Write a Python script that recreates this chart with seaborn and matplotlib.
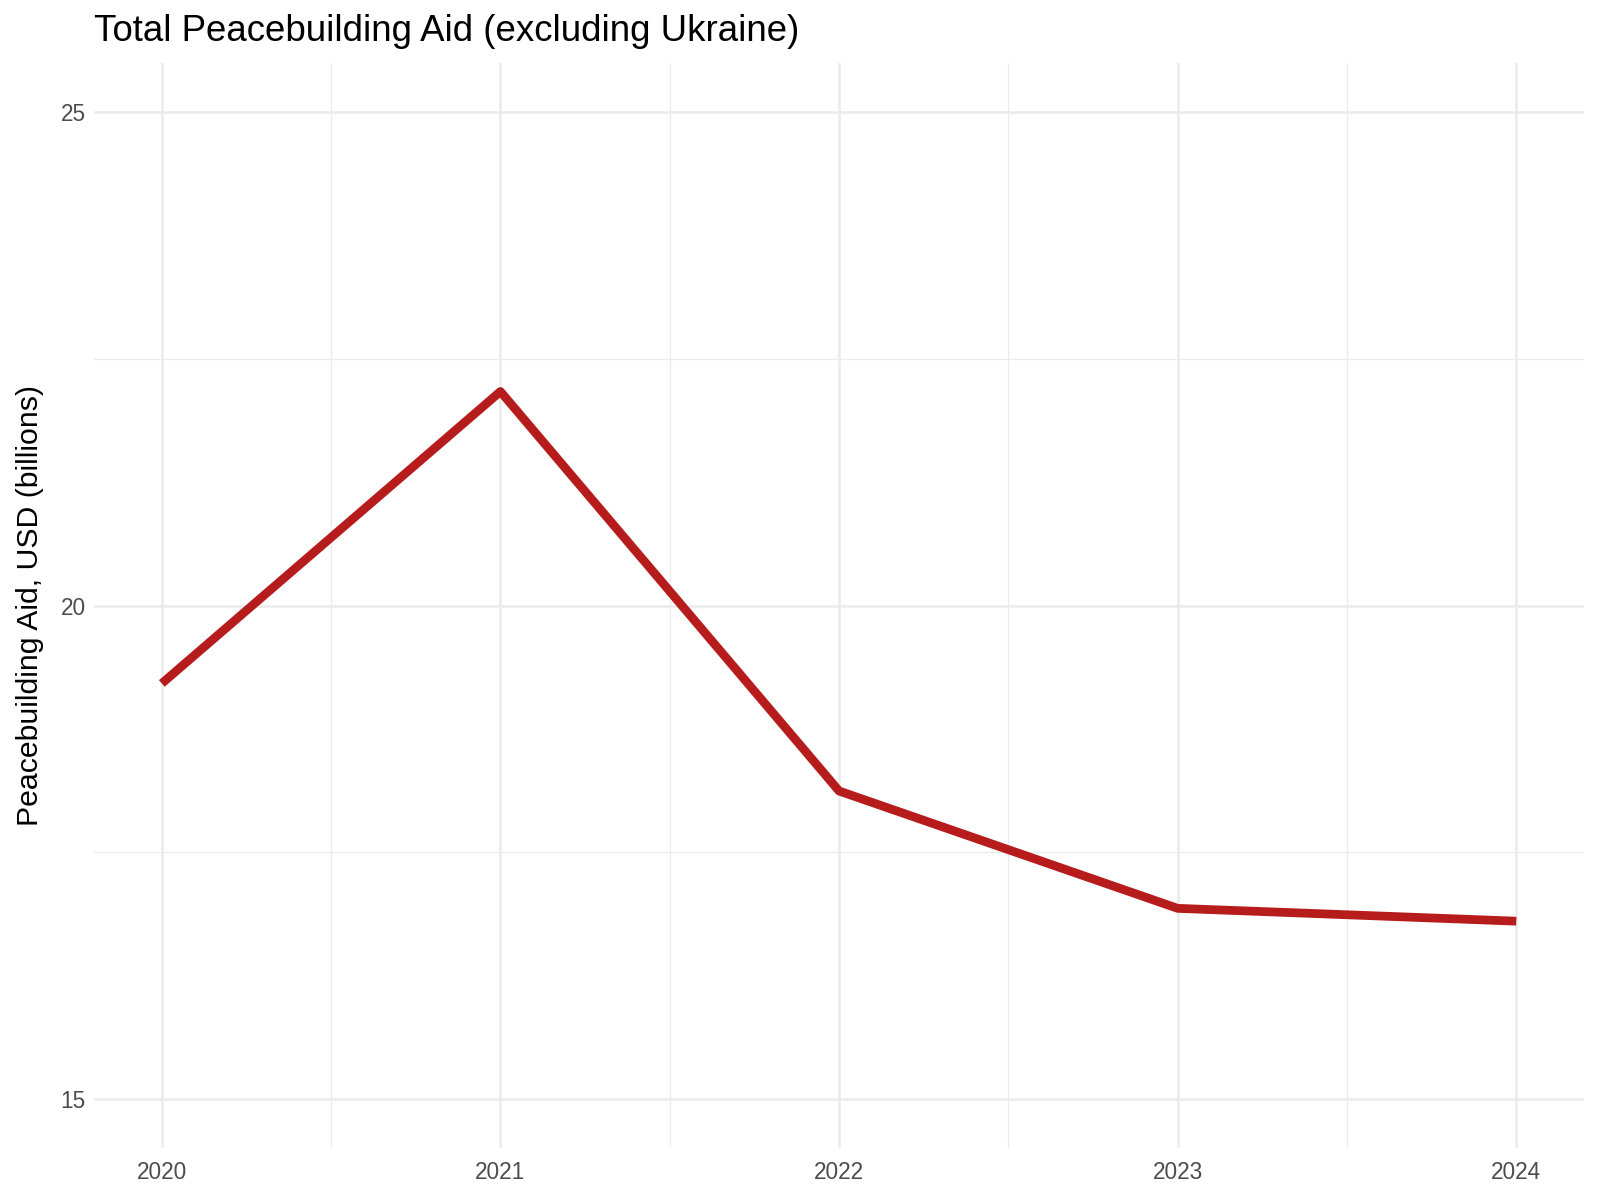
import numpy as np
import pandas as pd
import matplotlib
matplotlib.use("Agg")
import matplotlib.pyplot as plt
from matplotlib.ticker import MultipleLocator
import seaborn as sns

# data
years = [2020, 2021, 2022, 2023, 2024]
aid_billions = [19.21, 22.17, 18.12, 16.93, 16.80]

df = pd.DataFrame({"year": years, "aid": aid_billions})

sns.set_theme(style="white")
plt.rcParams["font.family"] = ["Liberation Sans", "DejaVu Sans"]

fig = plt.figure(figsize=(16, 12.01), dpi=100)
ax = fig.add_axes([0.0588, 0.0441, 0.9312, 0.9034])

sns.lineplot(data=df, x="year", y="aid", color="#B71C1C", linewidth=6.3,
             solid_capstyle="butt", ax=ax)

ax.set_xlim(2019.8, 2024.2)
ax.set_ylim(14.5, 25.5)
ax.xaxis.set_major_locator(MultipleLocator(1))
ax.xaxis.set_minor_locator(MultipleLocator(0.5))
ax.yaxis.set_major_locator(MultipleLocator(5))
ax.yaxis.set_minor_locator(MultipleLocator(2.5))
ax.grid(which="major", color="#EBEBEB", linewidth=1.8)
ax.grid(which="minor", color="#EBEBEB", linewidth=0.9)
ax.set_axisbelow(True)
for s in ax.spines.values():
    s.set_visible(False)
ax.tick_params(which="both", length=0, labelsize=16.3, labelcolor="#4D4D4D")
ax.tick_params(axis="x", pad=9)
ax.tick_params(axis="y", pad=6)

ax.set_xlabel("")
ax.set_ylabel("Peacebuilding Aid, USD (billions)", fontsize=21.8, color="black", labelpad=12)
fig.text(0.0588, 0.974, "Total Peacebuilding Aid (excluding Ukraine)",
         fontsize=26.4, color="black", ha="left", va="center")

fig.savefig("out.png", dpi=100, facecolor="white")
